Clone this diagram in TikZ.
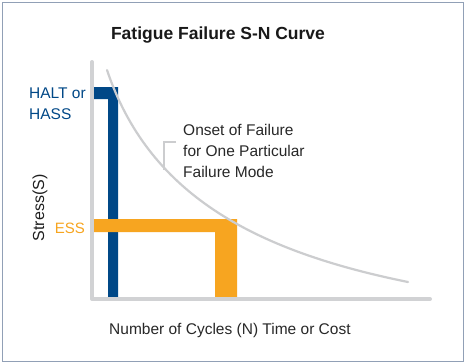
\documentclass[tikz,border=0pt]{standalone}
\usepackage{fontspec}
\setmainfont{Liberation Sans}
\definecolor{frameC}{RGB}{145,160,182}
\definecolor{axisC}{RGB}{209,210,212}
\definecolor{curveC}{RGB}{204,205,207}
\definecolor{haltC}{RGB}{0,72,135}
\definecolor{essC}{RGB}{247,165,32}
\definecolor{txtC}{RGB}{40,40,40}
\tikzset{
  lbl/.style={inner sep=0pt, text=txtC},
  axisline/.style={draw=axisC, line width=4pt, line cap=round, line join=round},
  sncurve/.style={draw=curveC, line width=2.2pt, line cap=round},
  callout/.style={draw=curveC, line width=1.2pt},
}
\begin{document}
\begin{tikzpicture}[x=1pt,y=-1pt]
\useasboundingbox (0,0) rectangle (467,364);
\fill[white] (0,0) rectangle (467,364);
\draw[frameC, line width=1.5pt] (2.5,2.5) rectangle (463.5,361.5);

% title
\node[lbl, anchor=base, font=\fontsize{17.5}{20}\selectfont\bfseries, text=black!90] (title) at (218,39) {Fatigue Failure S-N Curve};

% bars
\fill[haltC] (94,87) -- (118,87) -- (118,298) -- (108,298) -- (108,99) -- (94,99) -- cycle;
\fill[essC] (94,219) -- (237,219) -- (237,298) -- (215,298) -- (215,232) -- (94,232) -- cycle;

% axes
\coordinate (ytop) at (92,62);
\coordinate (origin) at (92,299);
\coordinate (xend) at (430,299);
\draw[axisline] (ytop) -- (origin) -- (xend);

% S-N curve
\coordinate (c0) at (107,70);
\coordinate (c1) at (408,282);
\draw[sncurve] (c0) .. controls (148,192) and (250,250) .. (c1);

% callout
\node[lbl, anchor=north west, align=left, font=\fontsize{15.5}{21}\selectfont] (onset) at (183,124.5) {Onset of Failure\\for One Particular\\Failure Mode};
\coordinate (k1) at (176,142);
\coordinate (k2) at (164,142);
\coordinate (k3) at (164,170);
\draw[callout] (k1) -- (k2) -- (k3);

% labels
\node[lbl, anchor=north west, align=left, text=haltC, font=\fontsize{15.5}{21}\selectfont] (halt) at (29,88) {HALT or\\HASS};
\node[lbl, anchor=base east, text=essC, font=\fontsize{15}{18}\selectfont] (ess) at (85,233) {ESS};
\node[lbl, rotate=90, font=\fontsize{16}{19}\selectfont, text=black!88] (stress) at (40,208) {Stress(S)};
\node[lbl, anchor=base west, font=\fontsize{15.5}{19}\selectfont] (ncyc) at (109,334) {Number of Cycles (N) Time or Cost};
\end{tikzpicture}
\end{document}
